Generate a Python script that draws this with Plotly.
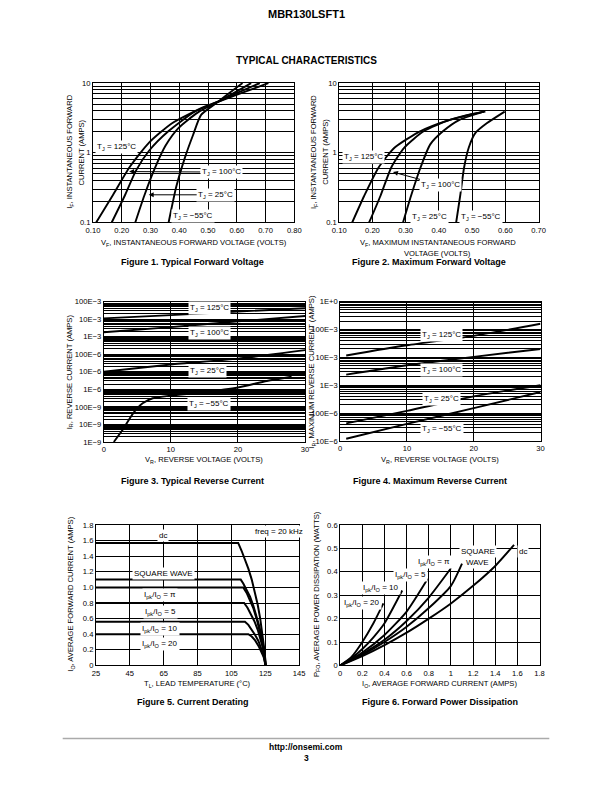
import plotly.graph_objects as go

W, H = 612, 792

# ---------------- data ----------------
# Figure 1: typical forward voltage (VF volts, IF amps)
f1_v_125 = [0.111, 0.17, 0.227, 0.295, 0.375, 0.488, 0.535, 0.62, 0.71]
f1_i_125 = [0.1, 0.25, 0.62, 1.4, 2.66, 4.6, 5.4, 7.3, 10]
f1_v_100 = [0.165, 0.21, 0.25, 0.295, 0.363, 0.454, 0.535, 0.61, 0.68]
f1_i_100 = [0.1, 0.24, 0.56, 1.07, 2.05, 3.9, 5.4, 7.5, 10]
f1_v_25 = [0.247, 0.278, 0.312, 0.352, 0.397, 0.465, 0.535, 0.60, 0.65]
f1_i_25 = [0.1, 0.24, 0.56, 1.26, 2.26, 3.8, 5.4, 7.6, 10]
f1_v_m55 = [0.363, 0.39, 0.42, 0.448, 0.476, 0.535, 0.58, 0.62]
f1_i_m55 = [0.1, 0.33, 0.86, 1.8, 3.5, 5.4, 7.5, 10]

# Figure 2: maximum forward voltage
f2_v_125 = [0.139, 0.175, 0.219, 0.267, 0.345, 0.423, 0.50, 0.54]
f2_i_125 = [0.1, 0.24, 0.62, 1.19, 2.05, 2.87, 3.6, 3.9]
f2_v_100 = [0.19, 0.224, 0.257, 0.296, 0.355, 0.433, 0.535]
f2_i_100 = [0.1, 0.24, 0.62, 1.19, 2.05, 2.97, 3.9]
f2_v_25 = [0.292, 0.316, 0.345, 0.374, 0.413, 0.462, 0.535]
f2_i_25 = [0.1, 0.24, 0.62, 1.32, 2.05, 2.97, 3.9]
f2_v_m55 = [0.452, 0.464, 0.476, 0.49, 0.51, 0.544, 0.598]
f2_i_m55 = [0.1, 0.24, 0.62, 1.19, 1.93, 2.65, 3.9]

# Figure 3: typical reverse current (VR volts, IR amps)
f3_v_125 = [0, 10, 20, 30]
f3_i_125 = [11e-3, 17e-3, 27e-3, 42e-3]
f3_v_100 = [0, 10, 20, 30]
f3_i_100 = [1.8e-3, 3.5e-3, 7.4e-3, 15e-3]
f3_v_25 = [0, 10, 20, 30]
f3_i_25 = [10e-6, 26e-6, 56e-6, 170e-6]
f3_v_m55 = [1.5, 3.0, 4.4, 5.8, 7.3, 10, 14.7, 20, 24.3, 28]
f3_i_m55 = [1e-9, 6.3e-9, 44e-9, 160e-9, 310e-9, 440e-9, 670e-9, 1.26e-6, 3e-6, 5.2e-6]

# Figure 4: maximum reverse current
f4_v = [0.9, 10, 20, 30]
f4_i_125 = [11.7e-3, 27e-3, 59e-3, 160e-3]
f4_i_100 = [2.4e-3, 5.2e-3, 10.4e-3, 20e-3]
f4_i_25 = [43e-6, 120e-6, 400e-6, 1.0e-3]
f4_i_m55 = [12e-6, 41e-6, 150e-6, 570e-6]

# Figure 5: current derating (TL degC, IO amps)
f5_t_dc = [25, 109, 111, 113, 115, 117, 119, 120.5, 122, 123, 124, 124.7, 125.2]
f5_i_dc = [1.57, 1.57, 1.47, 1.36, 1.24, 1.10, 0.93, 0.78, 0.60, 0.46, 0.30, 0.16, 0]
f5_t_sq = [25, 110.5, 112, 114, 116, 118, 120, 121.5, 123, 124, 124.8, 125.2]
f5_i_sq = [1.1, 1.1, 1.05, 0.97, 0.88, 0.76, 0.62, 0.50, 0.35, 0.23, 0.11, 0]
f5_t_pi = [25, 112, 114, 116, 118, 120, 121.5, 123, 124.2, 125.2]
f5_i_pi = [1.0, 1.0, 0.93, 0.84, 0.73, 0.59, 0.47, 0.32, 0.18, 0]
f5_t_5 = [25, 112.5, 114.5, 116.5, 118.5, 120.5, 122, 123.5, 124.5, 125.2]
f5_i_5 = [0.8, 0.8, 0.74, 0.66, 0.57, 0.46, 0.36, 0.23, 0.13, 0]
f5_t_10 = [25, 113, 115, 117, 119, 121, 122.5, 124, 125.2]
f5_i_10 = [0.56, 0.56, 0.52, 0.46, 0.39, 0.31, 0.23, 0.13, 0]
f5_t_20 = [25, 115, 117, 119, 121, 122.5, 124, 125.2]
f5_i_20 = [0.4, 0.4, 0.37, 0.32, 0.25, 0.19, 0.11, 0]

# Figure 6: forward power dissipation (IO amps, PFO watts)
f6_i_dc = [0, 0.2, 0.4, 0.6, 0.8, 1.0, 1.2, 1.4, 1.57]
f6_p_dc = [0, 0.04, 0.087, 0.14, 0.2, 0.265, 0.34, 0.425, 0.515]
f6_i_sq = [0, 0.2, 0.4, 0.6, 0.8, 1.0, 1.1]
f6_p_sq = [0, 0.045, 0.1, 0.165, 0.245, 0.34, 0.435]
f6_i_pi = [0, 0.2, 0.4, 0.6, 0.8, 1.0]
f6_p_pi = [0, 0.05, 0.11, 0.19, 0.29, 0.415]
f6_i_5 = [0, 0.2, 0.4, 0.6, 0.79]
f6_p_5 = [0, 0.055, 0.13, 0.23, 0.37]
f6_i_10 = [0, 0.1, 0.2, 0.3, 0.4, 0.56]
f6_p_10 = [0, 0.03, 0.07, 0.12, 0.18, 0.32]
f6_i_20 = [0, 0.1, 0.2, 0.3, 0.39]
f6_p_20 = [0, 0.035, 0.1, 0.18, 0.265]

# tick labels
f1_xticks = [0.10, 0.20, 0.30, 0.40, 0.50, 0.60, 0.70, 0.80]
f2_xticks = [0.10, 0.20, 0.30, 0.40, 0.50, 0.60, 0.70]
f12_yvals = [0.1, 1, 10]
f12_ytext = ["0.1", "1", "10"]
f3_yvals = [1e-1, 1e-2, 1e-3, 1e-4, 1e-5, 1e-6, 1e-7, 1e-8, 1e-9]
f3_ytext = ["100E\u22123", "10E\u22123", "1E\u22123", "100E\u22126", "10E\u22126",
            "1E\u22126", "100E\u22129", "10E\u22129", "1E\u22129"]
f4_yvals = [1, 1e-1, 1e-2, 1e-3, 1e-4, 1e-5]
f4_ytext = ["1E+0", "100E\u22123", "10E\u22123", "1E\u22123", "100E\u22126", "10E\u22126"]
f5_xvals = [25, 45, 65, 85, 105, 125, 145]
f5_yvals = [0, 0.2, 0.4, 0.6, 0.8, 1.0, 1.2, 1.4, 1.6, 1.8]
f5_ytext = ["0", "0.2", "0.4", "0.6", "0.8", "1.0", "1.2", "1.4", "1.6", "1.8"]
f6_xvals = [0, 0.2, 0.4, 0.6, 0.8, 1.0, 1.2, 1.4, 1.6, 1.8]
f6_xtext = ["0", "0.2", "0.4", "0.6", "0.8", "1", "1.2", "1.4", "1.6", "1.8"]
f6_yvals = [0, 0.1, 0.2, 0.3, 0.4, 0.5, 0.6]
f6_ytext = ["0", "0.1", "0.2", "0.3", "0.4", "0.5", "0.6"]

# ---------------- helpers ----------------
FONT = "Liberation Sans, Arial, Helvetica, sans-serif"
TICK = 7.6
TITLE = 7.6
LBL = 8


def px(x, y):
    return x / W, 1 - y / H


def dom_x(x0, x1):
    return [x0 / W, x1 / W]


def dom_y(y0, y1):
    return [1 - y1 / H, 1 - y0 / H]


fig = go.Figure()


def line(x, y, ax_id, shape="spline", width=1.9):
    ld = dict(color="black", width=width, shape=shape)
    if shape == "spline":
        ld["smoothing"] = 0.6
    fig.add_trace(go.Scatter(
        x=x, y=y, mode="lines", xaxis="x" + ax_id, yaxis="y" + ax_id,
        line=ld, hoverinfo="skip", showlegend=False))


for xs, ys in [(f1_v_125, f1_i_125), (f1_v_100, f1_i_100), (f1_v_25, f1_i_25), (f1_v_m55, f1_i_m55)]:
    line(xs, ys, "")
for xs, ys in [(f2_v_125, f2_i_125), (f2_v_100, f2_i_100), (f2_v_25, f2_i_25), (f2_v_m55, f2_i_m55)]:
    line(xs, ys, "2")
for xs, ys in [(f3_v_125, f3_i_125), (f3_v_100, f3_i_100), (f3_v_25, f3_i_25), (f3_v_m55, f3_i_m55)]:
    line(xs, ys, "3")
for ys in [f4_i_125, f4_i_100, f4_i_25, f4_i_m55]:
    line(f4_v, ys, "4")
for xs, ys in [(f5_t_dc, f5_i_dc), (f5_t_sq, f5_i_sq), (f5_t_pi, f5_i_pi), (f5_t_5, f5_i_5),
               (f5_t_10, f5_i_10), (f5_t_20, f5_i_20)]:
    line(xs, ys, "5", shape="linear", width=2)
for xs, ys in [(f6_i_dc, f6_p_dc), (f6_i_sq, f6_p_sq), (f6_i_pi, f6_p_pi), (f6_i_5, f6_p_5),
               (f6_i_10, f6_p_10), (f6_i_20, f6_p_20)]:
    line(xs, ys, "6")


def base_axis(**kw):
    d = dict(showline=True, linecolor="black", linewidth=1, mirror=True,
             showgrid=True, gridcolor="black", gridwidth=1, zeroline=False,
             ticks="", ticklen=0, tickfont=dict(family=FONT, size=TICK, color="black"),
             fixedrange=True)
    d.update(kw)
    return d


minor_log = dict(dtick="D1", showgrid=True, gridcolor="black", gridwidth=1, ticks="")

layout = dict(
    width=W, height=H, margin=dict(l=0, r=0, t=0, b=0),
    paper_bgcolor="white", plot_bgcolor="white", showlegend=False,
    font=dict(family=FONT, color="black"),
    # Fig 1
    xaxis=base_axis(domain=dom_x(88, 294), range=[0.10, 0.80], tickvals=f1_xticks,
                    tickformat=".2f", anchor="y"),
    yaxis=base_axis(domain=dom_y(80, 221), type="log", range=[-1, 1], tickvals=f12_yvals,
                    ticktext=f12_ytext, minor=minor_log, anchor="x"),
    # Fig 2
    xaxis2=base_axis(domain=dom_x(340, 544), range=[0.10, 0.70], tickvals=f2_xticks,
                     tickformat=".2f", anchor="y2"),
    yaxis2=base_axis(domain=dom_y(80, 221), type="log", range=[-1, 1], tickvals=f12_yvals,
                     ticktext=f12_ytext, minor=minor_log, anchor="x2"),
    # Fig 3
    xaxis3=base_axis(domain=dom_x(99, 305), range=[0, 30], dtick=10, anchor="y3"),
    yaxis3=base_axis(domain=dom_y(301, 443), type="log", range=[-9, -1], tickvals=f3_yvals,
                     ticktext=f3_ytext, minor=minor_log, anchor="x3"),
    # Fig 4
    xaxis4=base_axis(domain=dom_x(341, 546), range=[0, 30], dtick=10, anchor="y4"),
    yaxis4=base_axis(domain=dom_y(301, 442), type="log", range=[-5, 0], tickvals=f4_yvals,
                     ticktext=f4_ytext, minor=minor_log, anchor="x4"),
    # Fig 5
    xaxis5=base_axis(domain=dom_x(91, 299), range=[25, 145], tickvals=f5_xvals, anchor="y5"),
    yaxis5=base_axis(domain=dom_y(527, 669), range=[0, 1.8], tickvals=f5_yvals,
                     ticktext=f5_ytext, anchor="x5"),
    # Fig 6
    xaxis6=base_axis(domain=dom_x(341, 545), range=[0, 1.8], tickvals=f6_xvals,
                     ticktext=f6_xtext, anchor="y6"),
    yaxis6=base_axis(domain=dom_y(527, 669), range=[0, 0.6], tickvals=f6_yvals,
                     ticktext=f6_ytext, anchor="x6"),
)
fig.update_layout(**layout)

ann = []


def text(x, y, s, size=TITLE, bold=False, angle=0, bg=None, align="center"):
    xx, yy = px(x, y)
    a = dict(x=xx, y=yy, xref="paper", yref="paper", text=("<b>%s</b>" % s) if bold else s,
             showarrow=False, textangle=angle, align=align,
             font=dict(family=FONT, size=size, color="black"),
             xanchor="center", yanchor="middle")
    if bg:
        a.update(bgcolor=bg, borderpad=1)
    ann.append(a)


def arrow_label(hx, hy, tx, ty, s, size=LBL):
    xx, yy = px(hx, hy)
    ann.append(dict(x=xx, y=yy, xref="paper", yref="paper", text=s, showarrow=True,
                    ax=tx - hx, ay=ty - hy, arrowhead=2, arrowsize=1, arrowwidth=1,
                    arrowcolor="black", bgcolor="white", borderpad=1,
                    font=dict(family=FONT, size=size, color="black")))


# header / footer
text(306, 10, "MBR130LSFT1", size=11, bold=True)
text(306, 57, "TYPICAL CHARACTERISTICS", size=10, bold=True)
text(306, 752, "http://onsemi.com", size=8.5, bold=True)
text(306, 763, "3", size=8.5, bold=True)

TJ = "T<sub>J</sub> = "
# Figure 1 labels
text(112, 145, TJ + "125\u00b0C", size=LBL, bg="white")
arrow_label(125, 169.5, 217, 170, TJ + "100\u00b0C")
arrow_label(145, 193, 212, 193, TJ + "25\u00b0C")
text(190, 214, TJ + "\u221255\u00b0C", size=LBL, bg="white")
# Figure 2 labels
text(365, 155, TJ + "125\u00b0C", size=LBL, bg="white")
arrow_label(395, 170, 443, 183, TJ + "100\u00b0C")
text(432, 215, TJ + "25\u00b0C", size=LBL, bg="white")
text(485, 215, TJ + "\u221255\u00b0C", size=LBL, bg="white")
# Figure 3 labels
text(207, 308, TJ + "125\u00b0C", size=LBL, bg="white")
text(207, 333, TJ + "100\u00b0C", size=LBL, bg="white")
text(205, 371, TJ + "25\u00b0C", size=LBL, bg="white")
text(207, 405, TJ + "\u221255\u00b0C", size=LBL, bg="white")
# Figure 4 labels
text(445, 335, TJ + "125\u00b0C", size=LBL, bg="white")
text(445, 370, TJ + "100\u00b0C", size=LBL, bg="white")
text(445, 400, TJ + "25\u00b0C", size=LBL, bg="white")
text(445, 430, TJ + "\u221255\u00b0C", size=LBL, bg="white")
# Figure 5 labels
IPK = "I<sub>pk</sub>/I<sub>O</sub> = "
text(160, 538, "dc", size=LBL, bg="white")
text(278, 534, "freq = 20 kHz", size=LBL, bg="white")
text(160, 576, "SQUARE WAVE", size=LBL, bg="white")
text(157, 598, IPK + "\u03c0", size=LBL, bg="white")
text(157, 615, IPK + "5", size=LBL, bg="white")
text(157, 632, IPK + "10", size=LBL, bg="white")
text(157, 647, IPK + "20", size=LBL, bg="white")
# Figure 6 labels
text(482, 554, "SQUARE", size=LBL, bg="white")
text(482, 565, "WAVE", size=LBL, bg="white")
text(528, 554, "dc", size=LBL, bg="white")
text(437, 564, IPK + "\u03c0", size=LBL, bg="white")
text(413, 578, IPK + "5", size=LBL, bg="white")
text(383, 591, IPK + "10", size=LBL, bg="white")
text(363, 606, IPK + "20", size=LBL, bg="white")

# axis titles
text(191, 242, "V<sub>F</sub>, INSTANTANEOUS FORWARD VOLTAGE (VOLTS)")
text(441, 242, "V<sub>F</sub>, MAXIMUM INSTANTANEOUS FORWARD")
text(441, 252, "VOLTAGE (VOLTS)")
text(202, 461, "V<sub>R</sub>, REVERSE VOLTAGE (VOLTS)")
text(443, 461, "V<sub>R</sub>, REVERSE VOLTAGE (VOLTS)")
text(195, 688, "T<sub>L</sub>, LEAD TEMPERATURE (\u00b0C)")
text(443, 688, "I<sub>O</sub>, AVERAGE FORWARD CURRENT (AMPS)")

text(65, 150, "I<sub>F</sub>, INSTANTANEOUS FORWARD", angle=-90)
text(76, 150, "CURRENT (AMPS)", angle=-90)
text(315, 150, "I<sub>F</sub>, INSTANTANEOUS FORWARD", angle=-90)
text(326, 150, "CURRENT (AMPS)", angle=-90)
text(64, 372, "I<sub>R</sub>, REVERSE CURRENT (AMPS)", angle=-90)
text(312, 372, "I<sub>R</sub>, MAXIMUM REVERSE CURRENT (AMPS)", angle=-90)
text(66, 597, "I<sub>O</sub>, AVERAGE FORWARD CURRENT (AMPS)", angle=-90)
text(317, 597, "P<sub>FO</sub>, AVERAGE POWER DISSIPATION (WATTS)", angle=-90)

# captions
CAP = 9
text(190, 261, "Figure 1. Typical Forward Voltage", size=CAP, bold=True)
text(432, 261, "Figure 2. Maximum Forward Voltage", size=CAP, bold=True)
text(190, 482, "Figure 3. Typical Reverse Current", size=CAP, bold=True)
text(433, 482, "Figure 4. Maximum Reverse Current", size=CAP, bold=True)
text(190, 706, "Figure 5. Current Derating", size=CAP, bold=True)
text(443, 706, "Figure 6. Forward Power Dissipation", size=CAP, bold=True)

fig.update_layout(annotations=ann)

x0, y0 = px(57, 743)
x1, _ = px(555, 743)
fig.add_shape(type="line", xref="paper", yref="paper", x0=x0, x1=x1, y0=y0, y1=y0,
              line=dict(color="#aaaaaa", width=1.5))

fig.write_html("out.html", config={"displayModeBar": False, "staticPlot": True},
               post_script="document.body.style.margin='0';document.body.style.overflow='hidden';")
